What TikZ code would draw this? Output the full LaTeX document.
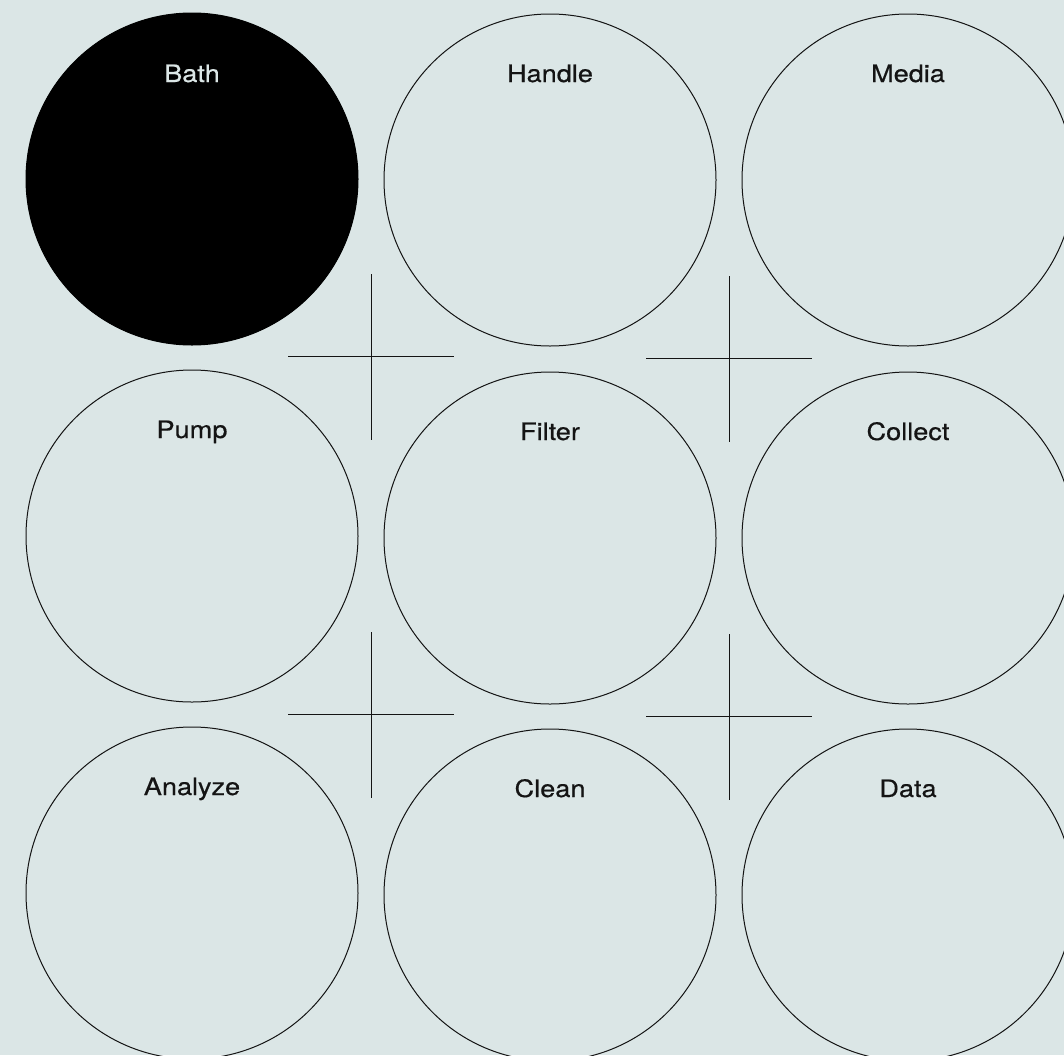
\documentclass[tikz,border=0pt]{standalone}
\usepackage{fontspec}
\setmainfont{TeX Gyre Heros}
\newfontfamily\lblfont[FakeStretch=1.13,FakeBold=0.5]{TeX Gyre Heros}
\definecolor{bg}{HTML}{DBE6E6}
\definecolor{ink}{HTML}{141414}
\begin{document}
\begin{tikzpicture}[x=1pt,y=-1pt,
  ring/.style={circle,draw=ink,line width=1pt,minimum size=332pt,inner sep=0pt},
  solid ring/.style={ring,fill=black,draw=black},
  lbl/.style={anchor=base,font=\lblfont\fontsize{24}{27}\selectfont,text=ink},
  lbl inv/.style={lbl,text=bg},
  mark line/.style={draw=ink,line width=1pt}]
\fill[bg] (0,0) rectangle (1064,1055);
\useasboundingbox (0,0) rectangle (1064,1055);
\begin{scope}
\clip (0,0) rectangle (1064,1055);
\node[solid ring] (bath) at (192,179) {};
\node[ring] (handle) at (550,180) {};
\node[ring] (media) at (908,180) {};
\node[ring] (pump) at (192,536) {};
\node[ring] (filter) at (550,538) {};
\node[ring] (collect) at (908,538) {};
\node[ring] (analyze) at (192,893) {};
\node[ring] (clean) at (550,895) {};
\node[ring] (data) at (908,895) {};
\end{scope}
\node[lbl inv] (tbath) at ([yshift=97pt]bath.center) {Bath};
\node[lbl] (thandle) at ([yshift=98pt]handle.center) {Handle};
\node[lbl] (tmedia) at ([yshift=98pt]media.center) {Media};
\node[lbl] (tpump) at ([yshift=98pt]pump.center) {Pump};
\node[lbl] (tfilter) at ([yshift=98pt]filter.center) {Filter};
\node[lbl] (tcollect) at ([yshift=98pt]collect.center) {Collect};
\node[lbl] (tanalyze) at ([yshift=98pt]analyze.center) {Analyze};
\node[lbl] (tclean) at ([yshift=98pt]clean.center) {Clean};
\node[lbl] (tdata) at ([yshift=98pt]data.center) {Data};
% crosses
\coordinate (c1) at (371,356);
\coordinate (c2) at (729,358);
\coordinate (c3) at (371,714);
\coordinate (c4) at (729,716);
\foreach \c in {c1,c2,c3,c4}{
  \draw[mark line] ([xshift=-83pt]\c) -- ([xshift=83pt]\c);
  \draw[mark line] ([yshift=82pt]\c) -- ([yshift=-84pt]\c);
}
\end{tikzpicture}
\end{document}
